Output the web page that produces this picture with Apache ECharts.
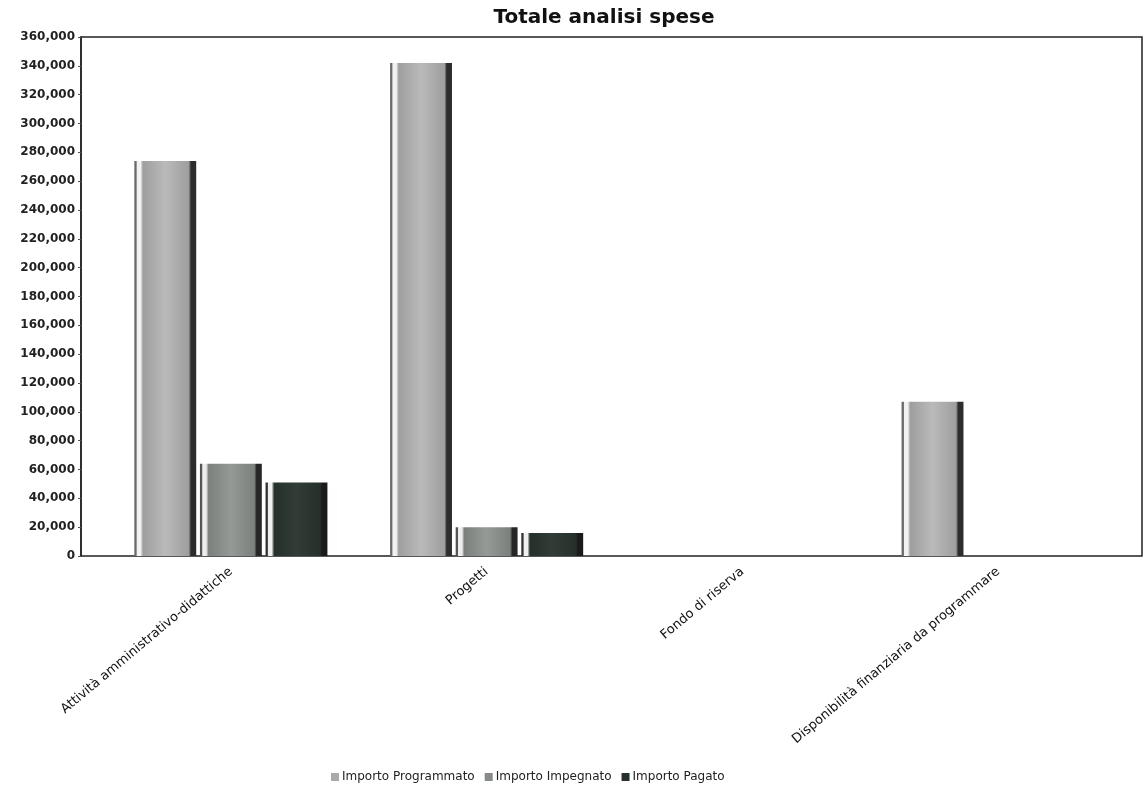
<!DOCTYPE html>
<html><head><meta charset="utf-8">
<script src="https://cdn.jsdelivr.net/npm/echarts@6/dist/echarts.min.js"></script>
<style>html,body{margin:0;padding:0;background:#fff}#c{width:1144px;height:787px}</style>
</head><body><div id="c"></div>
<script>
const titleText = 'Totale analisi spese';
const categories = ['Attività amministrativo-didattiche', 'Progetti', 'Fondo di riserva', 'Disponibilità finanziaria da programmare'];
const seriesNames = ['Importo Programmato', 'Importo Impegnato', 'Importo Pagato'];
const importoProgrammato = [274000, 342000, 0, 107000];
const importoImpegnato = [64000, 20000, 0, 0];
const importoPagato = [51000, 16000, 0, 0];
const yMin = 0, yMax = 360000, yStep = 20000;

const FONT = 'DejaVu Sans';
function grad(edge, hi, body1, body2, dark) {
  return new echarts.graphic.LinearGradient(0, 0, 1, 0, [
    {offset: 0, color: edge}, {offset: 0.03, color: edge},
    {offset: 0.045, color: hi}, {offset: 0.1, color: hi},
    {offset: 0.14, color: body1}, {offset: 0.5, color: body2},
    {offset: 0.88, color: body1}, {offset: 0.915, color: dark}, {offset: 1, color: dark}
  ]);
}
const solid = ['#a9aaa9', '#868b87', '#28322d'];
const fills = [
  grad('#6a6a6a', '#f2f2f2', '#9d9e9d', '#b9bab9', '#2c2c2c'),
  grad('#555555', '#eeeeee', '#7c807d', '#959a96', '#262626'),
  grad('#333333', '#f0f0f0', '#26302b', '#323c37', '#1a1a1a')
];
const values = [importoProgrammato, importoImpegnato, importoPagato];

const chart = echarts.init(document.getElementById('c'), null, {renderer: 'canvas'});
chart.setOption({
  animation: false,
  backgroundColor: '#ffffff',
  title: {
    text: titleText, left: 599, top: 3, textAlign: 'center',
    textStyle: {fontFamily: FONT, fontSize: 20, fontWeight: 'bold', color: '#111'}
  },
  legend: {
    data: seriesNames.map((n, i) => ({name: n, itemStyle: {color: solid[i]}})),
    left: 326, top: 766, icon: 'rect', itemWidth: 8, itemHeight: 8, itemGap: 10,
    textStyle: {fontFamily: FONT, fontSize: 12, color: '#222', padding: [0, 0, 0, -2]}
  },
  grid: [
    {left: 103, right: 18, top: 37, bottom: 231, show: false},
    {left: 81, right: 2, top: 37, bottom: 231, show: true, borderColor: '#222', borderWidth: 1.5, backgroundColor: 'transparent'}
  ],
  xAxis: [
    {
      type: 'category', gridIndex: 0, data: categories,
      axisLine: {show: false}, axisTick: {show: false},
      axisLabel: {rotate: 40, margin: 14, interval: 0, fontFamily: FONT, fontSize: 13, color: '#111'}
    },
    {type: 'value', gridIndex: 1, show: false, min: 0, max: 1}
  ],
  yAxis: [
    {
      type: 'value', gridIndex: 0, min: yMin, max: yMax, interval: yStep, offset: 22,
      axisLine: {show: true, lineStyle: {color: '#222', width: 1.5}},
      axisTick: {show: true, length: 3, lineStyle: {color: '#555'}},
      splitLine: {show: false},
      axisLabel: {
        margin: 6, fontFamily: FONT, fontSize: 12, fontWeight: 'bold', color: '#222',
        formatter: v => v.toLocaleString('en-US')
      }
    },
    {type: 'value', gridIndex: 1, show: false, min: 0, max: 1}
  ],
  series: seriesNames.map((n, i) => ({
    name: n, type: 'bar', xAxisIndex: 0, yAxisIndex: 0,
    data: values[i],
    barCategoryGap: '24.5%', barGap: '6%',
    itemStyle: {color: fills[i]},
    emphasis: {disabled: true}
  }))
});
</script></body></html>
